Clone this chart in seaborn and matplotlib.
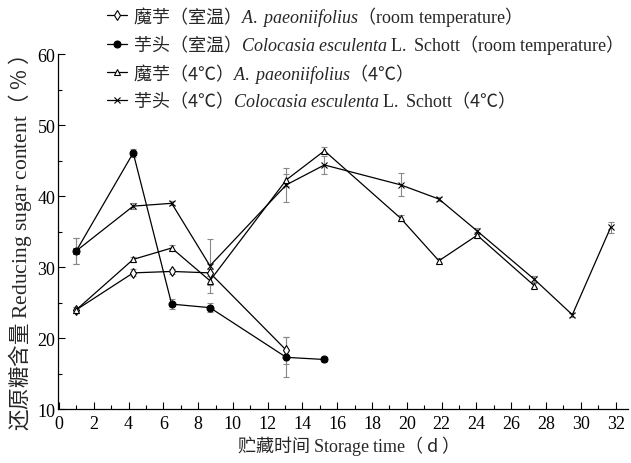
import matplotlib
matplotlib.use("Agg")
import matplotlib.pyplot as plt
import seaborn as sns
import numpy as np
from matplotlib.ticker import MultipleLocator

# storage days (as placed on the axis) and reducing sugar content (%)
days_amr = [1, 4.27, 6.48, 8.68, 13.07]
amr = [24.0, 29.2, 29.4, 29.2, 18.3]
amr_err = [0.4, 0.5, 0.4, 0.5, 1.9]

days_cer = [1, 4.27, 6.48, 8.68, 13.07, 15.26]
cer = [32.3, 46.1, 24.8, 24.3, 17.3, 17.0]
cer_err = [1.8, 0.6, 0.7, 0.6, 2.8, 0.3]

days_a4 = [1, 4.27, 6.48, 8.68, 13.07, 15.26, 19.64, 21.84, 24.04, 27.32]
a4 = [24.0, 31.1, 32.7, 28.1, 42.3, 46.4, 36.9, 30.9, 34.5, 27.4]
a4_err = [0.4, 0.4, 0.4, 0.6, 0.8, 0.5, 0.4, 0.4, 0.4, 0.4]

days_c4 = [1, 4.27, 6.48, 8.68, 13.07, 15.26, 19.64, 21.84, 24.04, 27.32, 29.51, 31.71]
c4 = [32.3, 38.6, 39.0, 30.2, 41.6, 44.4, 41.6, 39.6, 35.1, 28.3, 23.3, 35.6]
c4_err = [1.8, 0.4, 0.3, 3.8, 2.4, 1.3, 1.6, 0.3, 0.4, 0.4, 0.3, 0.8]

labels = [
    r"魔芋（室温）$\mathit{A.\ paeoniifolius}$（$\mathrm{room\ temperature}$）",
    r"芋头（室温）$\mathit{Colocasia\ esculenta}$ $\mathrm{L.\ Schott}$（$\mathrm{room\ temperature}$）",
    r"魔芋（4℃）$\mathit{A.\ paeoniifolius}$（4℃）",
    r"芋头（4℃）$\mathit{Colocasia\ esculenta}$ $\mathrm{L.\ Schott}$（4℃）",
]

sns.set_style("ticks")
plt.rcParams["font.family"] = ["Liberation Serif", "Noto Sans CJK SC"]
plt.rcParams["mathtext.fontset"] = "custom"
plt.rcParams["mathtext.rm"] = "Liberation Serif"
plt.rcParams["mathtext.it"] = "Liberation Serif:italic"
plt.rcParams["mathtext.bf"] = "Liberation Serif:bold"

fig = plt.figure(figsize=(6.31, 4.64), dpi=100)
ax = fig.add_axes([0.092, 0.116, 0.903, 0.765])

series = [
    (days_amr, amr, amr_err, "d", "white", 5),
    (days_cer, cer, cer_err, "o", "black", 5),
    (days_a4, a4, a4_err, "^", "white", 4.5),
    (days_c4, c4, c4_err, "x", "black", 4.5),
]

for (d, v, e, m, fc, ms), lab in zip(series, labels):
    ax.errorbar(d, v, yerr=e, fmt="none", ecolor="#888888", elinewidth=0.8,
                capsize=2, capthick=0.8, zorder=1)
    sns.lineplot(x=d, y=v, ax=ax, color="black", lw=0.9, marker=m,
                 markersize=ms, markerfacecolor=fc, markeredgecolor="black",
                 markeredgewidth=0.8, label=lab, sort=False, zorder=3)

ax.set_xlim(-0.05, 32.7)
ax.set_ylim(10, 60)
ax.xaxis.set_major_locator(MultipleLocator(2))
ax.xaxis.set_minor_locator(MultipleLocator(1))
ax.yaxis.set_major_locator(MultipleLocator(10))
ax.yaxis.set_minor_locator(MultipleLocator(5))
ax.tick_params(which="both", direction="in", colors="black", labelsize=13, width=0.8)
ax.tick_params(which="major", length=5)
ax.tick_params(which="minor", length=3)
ax.tick_params(axis="x", pad=4)
ax.tick_params(axis="y", pad=2)
sns.despine(ax=ax)
for s in ["left", "bottom"]:
    ax.spines[s].set_color("black")
    ax.spines[s].set_linewidth(0.9)

ax.set_xlabel(r"贮藏时间 $\mathrm{Storage\ time}$（ d ）", fontsize=13,
              family="Noto Sans CJK SC", labelpad=1)
ax.set_ylabel(r"还原糖含量 $\mathrm{Reducing\ sugar\ content}$（ % ）", fontsize=15.5,
              family="Noto Sans CJK SC")
ax.yaxis.set_label_coords(-0.043, 0.47)

leg = ax.legend(loc="upper left", bbox_to_anchor=(0.17, 0.99),
                bbox_transform=fig.transFigure, frameon=False,
                prop={"family": "Noto Sans CJK SC", "size": 13},
                handlelength=1.1, handletextpad=0.3, labelspacing=0.25,
                borderpad=0, borderaxespad=0, numpoints=1)

fig.savefig("out.png", dpi=100)
